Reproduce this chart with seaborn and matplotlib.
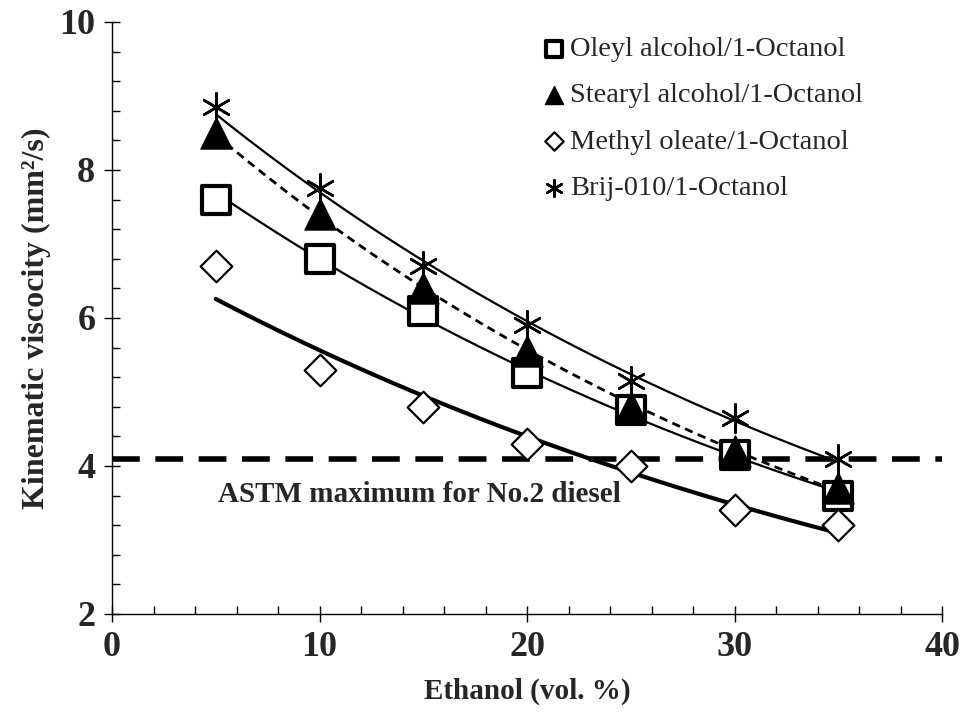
import numpy as np
import pandas as pd
import matplotlib
matplotlib.use("Agg")
import matplotlib.pyplot as plt
import seaborn as sns
from matplotlib.ticker import MultipleLocator

ethanol = [5, 10, 15, 20, 25, 30, 35]
oleyl = [7.6, 6.8, 6.1, 5.25, 4.75, 4.15, 3.6]
stearyl = [8.5, 7.4, 6.4, 5.55, 4.8, 4.2, 3.7]
methyl = [6.7, 5.3, 4.8, 4.3, 4.0, 3.4, 3.2]
brij = [8.85, 7.75, 6.7, 5.9, 5.15, 4.65, 4.1]
labels = ["Oleyl alcohol/1-Octanol", "Stearyl alcohol/1-Octanol",
          "Methyl oleate/1-Octanol", "Brij-010/1-Octanol"]
astm_limit = 4.1

sns.set_style("ticks")
plt.rcParams["font.family"] = ["Liberation Serif", "DejaVu Serif"]

fig = plt.figure(figsize=(9.65, 7.15), dpi=100)
ax = fig.add_axes([0.1161, 0.1413, 0.8601, 0.8280])

series = [oleyl, stearyl, methyl, brij]
markers = ["s", "^", "D", (6, 2, 0)]
msizes = [380, 500, 260, 420]
faces = ["white", "black", "white", "black"]
edgew = [3.0, 1.0, 1.6, 1.8]
line_styles = [dict(lw=1.6, ls="-"), dict(lw=2.0, ls=(0, (3, 2))),
               dict(lw=3.0, ls="-"), dict(lw=1.6, ls="-")]

xfine = np.linspace(5, 35, 200)
for vals, lsd in zip(series, line_styles):
    b, a = np.polyfit(ethanol, np.log(vals), 1)
    fit = pd.DataFrame({"x": xfine, "y": np.exp(a + b * xfine)})
    sns.lineplot(data=fit, x="x", y="y", ax=ax, color="black",
                 linewidth=lsd["lw"], linestyle=lsd["ls"], zorder=2)

ax.axhline(astm_limit, color="black", lw=4.0, ls=(0, (5, 2.8)), zorder=1)

for vals, lab, mk, ms, fc, ew in zip(series, labels, markers, msizes, faces, edgew):
    df = pd.DataFrame({"x": ethanol, "y": vals})
    sns.scatterplot(data=df, x="x", y="y", ax=ax, marker=mk, s=ms,
                    facecolor=fc, edgecolor="black", linewidth=ew,
                    label=lab, zorder=3)

ax.set_xlim(0, 40)
ax.set_ylim(2, 10)
ax.xaxis.set_major_locator(MultipleLocator(10))
ax.xaxis.set_minor_locator(MultipleLocator(2))
ax.yaxis.set_major_locator(MultipleLocator(2))
ax.yaxis.set_minor_locator(MultipleLocator(0.4))
ax.tick_params(which="major", direction="inout", length=12, width=1.0,
               labelsize=26, color="black", pad=6)
ax.tick_params(which="minor", direction="in", length=6, width=1.0, color="black")
for lbl in ax.get_xticklabels() + ax.get_yticklabels():
    lbl.set_fontweight("bold")
sns.despine(ax=ax)
for sp in ["left", "bottom"]:
    ax.spines[sp].set_linewidth(1.0)
    ax.spines[sp].set_color("black")

ax.set_xlabel("Ethanol (vol. %)", fontsize=21, fontweight="bold", labelpad=10)
ax.set_ylabel("Kinematic viscocity (mm\u00b2/s)", fontsize=23, fontweight="bold", labelpad=6)

ax.text(5.1, 3.62, "ASTM maximum for No.2 diesel", fontsize=21,
        fontweight="bold", ha="left", va="center")

leg = ax.legend(loc="upper right", bbox_to_anchor=(0.925, 1.005), frameon=False,
                fontsize=20.5, markerscale=0.58, handletextpad=0.05,
                labelspacing=0.72, borderaxespad=0.2, handlelength=1.0)

fig.savefig("out.png", dpi=100)
